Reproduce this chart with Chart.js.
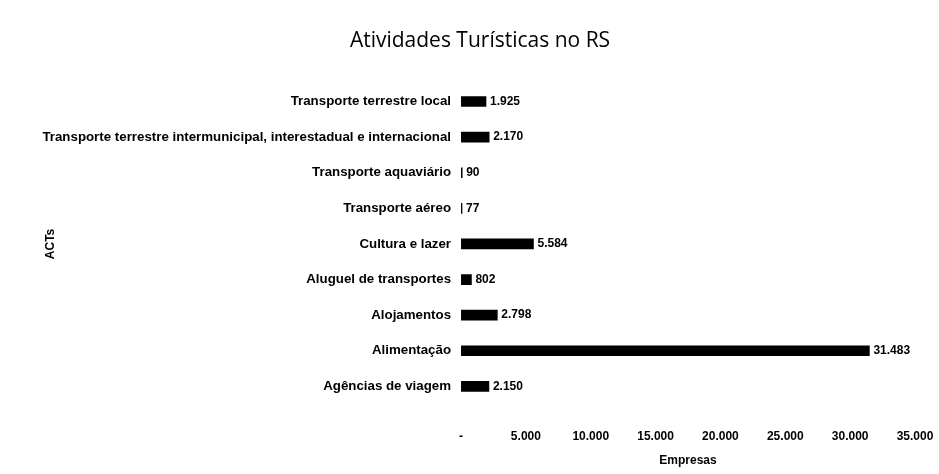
<!DOCTYPE html>
<html>
<head>
<meta charset="utf-8">
<script src="https://cdn.jsdelivr.net/npm/chart.js@4"></script>
<style>
	html, body { margin: 0; padding: 0; background: #fff; }
	#wrap { width: 939px; height: 474px; }
</style>
</head>
<body>
<div id="wrap"><canvas id="chart" width="939" height="474"></canvas></div>
<script>
const atividades = [
	'Transporte terrestre local',
	'Transporte terrestre intermunicipal, interestadual e internacional',
	'Transporte aquaviário',
	'Transporte aéreo',
	'Cultura e lazer',
	'Aluguel de transportes',
	'Alojamentos',
	'Alimentação',
	'Agências de viagem'
];
const empresas = [1925, 2170, 90, 77, 5584, 802, 2798, 31483, 2150];
const xTicks = [0, 5000, 10000, 15000, 20000, 25000, 30000, 35000];

const fonte = '"Liberation Sans", Arial, sans-serif';

function milhar(v) {
	return String(v).replace(/\B(?=(\d{3})+(?!\d))/g, '.');
}

// rótulos de valor no fim de cada barra
const valores = {
	id: 'valores',
	afterDatasetsDraw(chart) {
		const ctx = chart.ctx;
		const meta = chart.getDatasetMeta(0);
		ctx.save();
		ctx.fillStyle = '#000';
		ctx.font = 'bold 12px ' + fonte;
		ctx.textBaseline = 'middle';
		meta.data.forEach((bar, i) => {
			ctx.fillText(milhar(empresas[i]), bar.x + 4, bar.y);
		});
		ctx.restore();
	}
};

new Chart(document.getElementById('chart'), {
	type: 'bar',
	data: {
		labels: atividades,
		datasets: [{
			label: 'Empresas',
			data: empresas,
			backgroundColor: '#000',
			borderWidth: 0,
			barThickness: 10
		}]
	},
	options: {
		indexAxis: 'y',
		responsive: false,
		animation: false,
		layout: {
			padding: { left: 21, right: 0, top: 10, bottom: 5 }
		},
		scales: {
			x: {
				min: 0,
				max: 35000,
				afterBuildTicks: axis => { axis.ticks = xTicks.map(v => ({ value: v })); },
				afterFit: axis => { axis.paddingRight = 24; },
				grid: { display: false, drawTicks: false },
				border: { display: false },
				ticks: {
					color: '#000',
					padding: 25,
					font: { family: fonte, size: 12, weight: 'bold' },
					callback: v => v === 0 ? '-' : milhar(v)
				},
				title: {
					display: true,
					text: 'Empresas',
					color: '#000',
					font: { family: fonte, size: 12, weight: 'bold' },
					padding: { top: -15, bottom: 1 }
				}
			},
			y: {
				grid: { display: false, drawTicks: false },
				border: { display: false },
				ticks: {
					color: '#000',
					padding: 10,
					font: { family: fonte, size: 13.3, weight: 'bold' }
				},
				title: {
					display: true,
					text: 'ACTs',
					color: '#000',
					font: { family: fonte, size: 12, weight: 'bold' },
					padding: { top: 22, bottom: -25 }
				}
			}
		},
		plugins: {
			legend: { display: false },
			tooltip: { enabled: false },
			title: {
				display: true,
				text: 'Atividades Turísticas no RS',
				color: '#000',
				font: { family: '"Open Sans", sans-serif', size: 21, weight: 'normal' },
				padding: { top: 18.5, bottom: 30 }
			}
		}
	},
	plugins: [valores]
});
</script>
</body>
</html>
